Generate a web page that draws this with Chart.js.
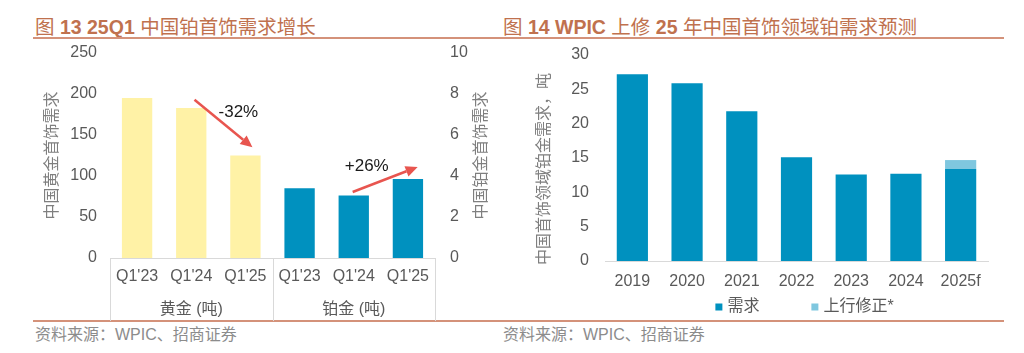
<!DOCTYPE html>
<html>
<head>
<meta charset="utf-8">
<script src="https://cdn.jsdelivr.net/npm/chart.js@4.4.1/dist/chart.umd.min.js"></script>
<style>
  body { margin: 0; width: 1024px; height: 353px; overflow: hidden; background: #fff; position: relative;
         font-family: 'Liberation Sans', 'Noto Sans CJK SC', sans-serif; }
  .ttl { position: absolute; top: 15px; font-size: 19.5px; color: #C0714E; white-space: nowrap; line-height: 24px; }
  .rule { position: absolute; left: 33px; width: 971px; height: 2px; background: #D4927A; }
  .src { position: absolute; top: 325px; font-size: 16px; color: #8C8C8C; line-height: 20px; white-space: nowrap; }
  #w1 { position: absolute; left: 0; top: 40px; width: 512px; height: 282px; }
  #w2 { position: absolute; left: 512px; top: 40px; width: 512px; height: 282px; }
</style>
</head>
<body>
<div class="ttl" style="left:35px">图 <b>13 25Q1</b> 中国铂首饰需求增长</div>
<div class="ttl" style="left:503px">图 <b>14 WPIC</b> 上修 <b>25</b> 年中国首饰领域铂需求预测</div>
<div class="rule" style="top:37px"></div>
<div class="rule" style="top:320px"></div>
<div class="src" style="left:35px">资料来源：WPIC、招商证券</div>
<div class="src" style="left:503px">资料来源：WPIC、招商证券</div>
<div id="w1"><canvas id="c1"></canvas></div>
<div id="w2"><canvas id="c2"></canvas></div>

<script>
// ===== DATA: chart 13 =====
const goldLabels = ["Q1'23", "Q1'24", "Q1'25"];
const platLabels = ["Q1'23", "Q1'24", "Q1'25"];
const groupNames = ["黄金 (吨)", "铂金 (吨)"];
const goldValues = [195, 183, 125];     // 吨
const platValues = [3.4, 3.05, 3.85];   // 吨
const goldAxisTitle = "中国黄金首饰需求";
const platAxisTitle = "中国铂金首饰需求";
// arrows: [category index, value] in data space
const arrowNotes = [
  { text: "-32%", axis: "y",  from: [1.06, 193], to: [2.13, 135], label: [1.87, 178] },
  { text: "+26%", axis: "y1", from: [3.98, 3.22], to: [5.18, 4.44], label: [4.24, 4.49] }
];

// ===== DATA: chart 14 =====
const years = ["2019", "2020", "2021", "2022", "2023", "2024", "2025f"];
const demand = [27.2, 25.9, 21.8, 15.1, 12.6, 12.7, 13.4];
const revision = [null, null, null, null, null, null, 1.3];
const seriesNames = ["需求", "上行修正*"];
const demandAxisTitle = "中国首饰领域铂金需求，吨";

const FONT = "'Liberation Sans', 'Noto Sans CJK SC', sans-serif";
Chart.defaults.font.family = FONT;
Chart.defaults.font.size = 16;
Chart.defaults.color = "#595959";
Chart.defaults.animation = false;

const GOLD = "#FFF2A6";
const BLUE = "#0091BF";
const LIGHT_BLUE = "#7FC7DF";
const AXIS_GREY = "#D9D9D9";

function vText(ctx, text, x, y) {
  ctx.save();
  ctx.translate(x, y);
  ctx.rotate(-Math.PI / 2);
  ctx.font = "16px " + FONT;
  ctx.fillStyle = "#7F7F7F";
  ctx.textAlign = "center";
  ctx.textBaseline = "middle";
  ctx.fillText(text, 0, 0);
  ctx.restore();
}

// fixed axis size, no extra label padding at the ends
function fixY(width) {
  return s => { s.width = width; s.paddingTop = 0; s.paddingBottom = 0; };
}

/* =========================
   CHART 13 PLUGINS
========================= */
const groupAxis = {
  id: "groupAxis",
  afterDraw(chart) {
    const { ctx, chartArea: { left, right, bottom }, scales: { x } } = chart;
    const n = goldLabels.length;
    const mid = (x.getPixelForValue(n - 1) + x.getPixelForValue(n)) / 2;
    ctx.save();
    ctx.strokeStyle = AXIS_GREY;
    ctx.lineWidth = 1;
    [left, mid, right].forEach(px => {
      ctx.beginPath();
      ctx.moveTo(Math.round(px) + 0.5, bottom);
      ctx.lineTo(Math.round(px) + 0.5, bottom + 63);
      ctx.stroke();
    });
    ctx.font = "16px " + FONT;
    ctx.fillStyle = "#595959";
    ctx.textAlign = "center";
    ctx.textBaseline = "middle";
    ctx.fillText(groupNames[0], (left + mid) / 2, bottom + 52);
    ctx.fillText(groupNames[1], (mid + right) / 2, bottom + 52);
    ctx.restore();

    vText(ctx, goldAxisTitle, 53, (chart.chartArea.top + bottom) / 2);
    vText(ctx, platAxisTitle, right + 47, (chart.chartArea.top + bottom) / 2);
  }
};

const arrows = {
  id: "arrows",
  afterDatasetsDraw(chart) {
    const { ctx, scales } = chart;
    arrowNotes.forEach(a => {
      const yS = scales[a.axis];
      const x0 = scales.x.getPixelForValue(a.from[0]), y0 = yS.getPixelForValue(a.from[1]);
      const x1 = scales.x.getPixelForValue(a.to[0]), y1 = yS.getPixelForValue(a.to[1]);
      const ang = Math.atan2(y1 - y0, x1 - x0);
      const head = 12, half = 5.5;
      const bx = x1 - head * Math.cos(ang), by = y1 - head * Math.sin(ang);
      ctx.save();
      ctx.strokeStyle = "#E8554F";
      ctx.fillStyle = "#E8554F";
      ctx.lineWidth = 2.5;
      ctx.beginPath();
      ctx.moveTo(x0, y0);
      ctx.lineTo(bx, by);
      ctx.stroke();
      ctx.beginPath();
      ctx.moveTo(x1, y1);
      ctx.lineTo(bx + half * Math.sin(ang), by - half * Math.cos(ang));
      ctx.lineTo(bx - half * Math.sin(ang), by + half * Math.cos(ang));
      ctx.closePath();
      ctx.fill();

      ctx.font = "17px " + FONT;
      ctx.fillStyle = "#1A1A1A";
      ctx.textAlign = "center";
      ctx.textBaseline = "middle";
      ctx.fillText(a.text, scales.x.getPixelForValue(a.label[0]), yS.getPixelForValue(a.label[1]));
      ctx.restore();
    });
  }
};

new Chart(document.getElementById("c1"), {
  type: "bar",
  data: {
    labels: [...goldLabels, ...platLabels],
    datasets: [
      {
        label: "黄金",
        data: [...goldValues, ...platLabels.map(() => null)],
        backgroundColor: GOLD,
        yAxisID: "y",
        grouped: false,
        categoryPercentage: 1,
        barPercentage: 0.56
      },
      {
        label: "铂金",
        data: [...goldLabels.map(() => null), ...platValues],
        backgroundColor: BLUE,
        yAxisID: "y1",
        grouped: false,
        categoryPercentage: 1,
        barPercentage: 0.56
      }
    ]
  },
  options: {
    responsive: true,
    maintainAspectRatio: false,
    layout: { padding: { top: 13, left: 0, right: 0, bottom: 0 } },
    plugins: { legend: { display: false }, tooltip: { enabled: false } },
    scales: {
      x: {
        grid: { display: false, drawTicks: false },
        border: { color: AXIS_GREY },
        ticks: { padding: 9, maxRotation: 0, autoSkip: false },
        afterFit: s => { s.height = 64; }
      },
      y: {
        position: "left",
        min: 0, max: 250,
        ticks: { stepSize: 50, padding: 13 },
        grid: { display: false, drawTicks: false },
        border: { display: false },
        afterFit: fixY(110)
      },
      y1: {
        position: "right",
        min: 0, max: 10,
        ticks: { stepSize: 2, padding: 15 },
        grid: { display: false, drawTicks: false },
        border: { display: false },
        afterFit: fixY(77)
      }
    }
  },
  plugins: [groupAxis, arrows]
});

/* =========================
   CHART 14 PLUGINS
========================= */
const sideLegend = {
  id: "sideLegend",
  afterDraw(chart) {
    const { ctx, chartArea: { left, right } } = chart;
    ctx.save();
    ctx.font = "16px " + FONT;
    const box = 7, gapText = 5, gapItem = 52;
    const items = chart.data.datasets.map(d => ({ text: d.label, color: d.backgroundColor }));
    const widths = items.map(it => box + gapText + ctx.measureText(it.text).width);
    const total = widths.reduce((a, b) => a + b, 0) + gapItem * (items.length - 1);
    let x = (left + right) / 2 + 8 - total / 2;
    const y = 267;
    ctx.textBaseline = "middle";
    ctx.textAlign = "left";
    items.forEach((it, i) => {
      ctx.fillStyle = it.color;
      ctx.fillRect(x, y - box / 2, box, box);
      ctx.fillStyle = "#595959";
      ctx.fillText(it.text, x + box + gapText, y);
      x += widths[i] + gapItem;
    });
    ctx.restore();

    vText(ctx, demandAxisTitle, 33, 129);
  }
};

new Chart(document.getElementById("c2"), {
  type: "bar",
  data: {
    labels: years,
    datasets: [
      {
        label: seriesNames[0],
        data: demand,
        backgroundColor: BLUE,
        categoryPercentage: 1,
        barPercentage: 0.57
      },
      {
        label: seriesNames[1],
        data: revision,
        backgroundColor: LIGHT_BLUE,
        categoryPercentage: 1,
        barPercentage: 0.57
      }
    ]
  },
  options: {
    responsive: true,
    maintainAspectRatio: false,
    layout: { padding: { top: 15, left: 0, right: 36, bottom: 0 } },
    plugins: { legend: { display: false }, tooltip: { enabled: false } },
    scales: {
      x: {
        stacked: true,
        grid: { display: false, drawTicks: false },
        border: { color: AXIS_GREY },
        ticks: { padding: 11, maxRotation: 0, autoSkip: false },
        afterFit: s => { s.height = 61; }
      },
      y: {
        stacked: true,
        min: 0, max: 30,
        ticks: { stepSize: 5, padding: 16 },
        grid: { display: false, drawTicks: false },
        border: { display: false },
        afterFit: fixY(93)
      }
    }
  },
  plugins: [sideLegend]
});
</script>
</body>
</html>
